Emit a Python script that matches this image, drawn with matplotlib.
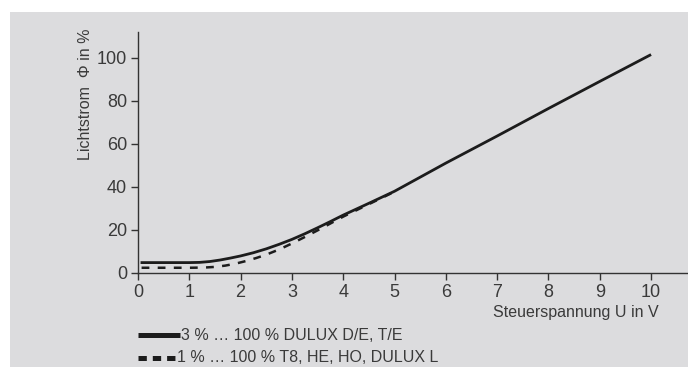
import numpy as np
import matplotlib.pyplot as plt
from matplotlib.patches import Rectangle

plt.rcParams['font.family'] = ['Liberation Sans', 'DejaVu Sans']
plt.rcParams['lines.scale_dashes'] = False

u_solid = [0.05, 0.5, 1.0, 1.2, 1.4, 1.6, 1.8, 2.0, 2.25, 2.5, 2.75, 3.0, 3.25, 3.5, 3.75,
           4.0, 4.5, 5.0, 6.0, 7.0, 8.0, 9.0, 10.0]
phi_solid = [4.7, 4.7, 4.7, 4.8, 5.2, 5.9, 6.8, 7.8, 9.3, 11.1, 13.2, 15.5, 18.1, 20.9, 23.8,
             26.8, 32.3, 37.9, 51.0, 63.6, 76.4, 89.0, 101.5]
u_dash = [0.07, 0.5, 1.0, 1.3, 1.5, 1.7, 1.9, 2.1, 2.3, 2.5, 2.75, 3.0, 3.25, 3.5, 3.75,
          4.0, 4.5, 5.0]
phi_dash = [2.3, 2.3, 2.3, 2.4, 2.7, 3.3, 4.2, 5.4, 6.8, 8.4, 10.8, 13.6, 16.6, 19.7, 22.9,
            26.1, 31.9, 37.7]
x_ticks = list(range(0, 11))
y_ticks = [0, 20, 40, 60, 80, 100]
legend_labels = ['3 % … 100 % DULUX D/E, T/E', '1 % … 100 % T8, HE, HO, DULUX L']

text_col = '#3a3a3a'
line_col = '#1c1c1c'

fig = plt.figure(figsize=(6.88, 3.76), dpi=100)
fig.patch.set_facecolor('white')
fig.patches.append(Rectangle((10 / 688, 1 - 367 / 376), 1, (367 - 12) / 376,
                             transform=fig.transFigure, facecolor='#dcdcde',
                             edgecolor='none', zorder=-10))

ax = fig.add_axes([138 / 688, 1 - 272.7 / 376, 1 - 138 / 688, (272.7 - 32) / 376])
ax.set_facecolor('none')
ax.plot(u_solid, phi_solid, color=line_col, linewidth=2.0, solid_capstyle='butt')
ax.plot(u_dash, phi_dash, color=line_col, linewidth=1.8, dashes=(5.6, 6.0))

ax.set_xlim(0, 10.72)
ax.set_ylim(0, 112)
ax.set_xticks(x_ticks)
ax.set_yticks(y_ticks)
for s in ['top', 'right']:
    ax.spines[s].set_visible(False)
for s in ['left', 'bottom']:
    ax.spines[s].set_color('#333333')
    ax.spines[s].set_linewidth(1.0)
ax.tick_params(colors='#333333', labelcolor=text_col, labelsize=13, length=5, width=1, pad=3)

fig.text(0.124, 1 - 28 / 376, 'Lichtstrom  \u03a6 in %', rotation=90, ha='center', va='top',
         fontsize=11.5, color=text_col)
fig.text(659 / 688, 1 - 313 / 376, 'Steuerspannung U in V', ha='right', va='center',
         fontsize=11.5, color=text_col)

# legend drawn by hand below the axes
for i, lab in enumerate(legend_labels):
    yy = 1 - (335 + 23 * i) / 376
    if i == 0:
        fig.add_artist(plt.Line2D([138 / 688, 180 / 688], [yy, yy], transform=fig.transFigure,
                                  color=line_col, linewidth=3.6, solid_capstyle='butt'))
    else:
        fig.add_artist(plt.Line2D([138 / 688, 175.5 / 688], [yy, yy], transform=fig.transFigure,
                                  color=line_col, linewidth=3.6, dashes=(6.0, 4.3)))
    fig.text(181 / 688 if i == 0 else 177 / 688, yy, lab, ha='left', va='center',
             fontsize=11.5, color=text_col)

fig.savefig('out.png', dpi=100)
